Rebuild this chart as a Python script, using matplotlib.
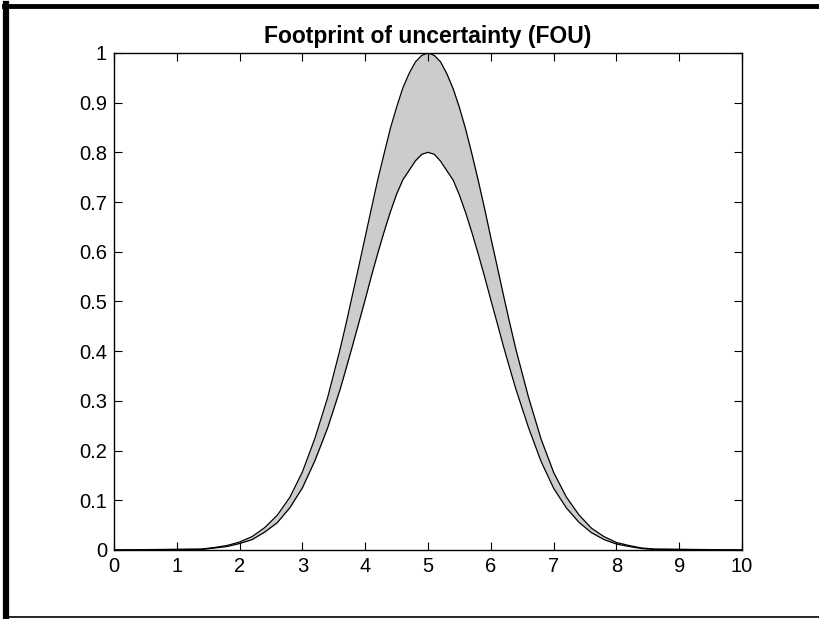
import matplotlib
matplotlib.use("Agg")
import matplotlib.pyplot as plt
from matplotlib.lines import Line2D

plt.rcParams['font.family'] = ['Liberation Sans', 'DejaVu Sans']

# points
x = [0, 1.4, 1.6, 1.8, 2.0, 2.2, 2.4, 2.6, 2.8, 3.0, 3.2, 3.4,
     3.6, 3.7, 3.8, 3.9, 4.0, 4.1, 4.2, 4.3, 4.4, 4.5, 4.6, 4.7, 4.8, 4.9,
     5.0, 5.1, 5.2, 5.3, 5.4, 5.5, 5.6, 5.7, 5.8, 5.9, 6.0, 6.1, 6.2, 6.3, 6.4,
     6.6, 6.8, 7.0, 7.2, 7.4, 7.6, 7.8, 8.0, 8.2, 8.4, 8.6, 10]
upper = [0, 0.002, 0.005, 0.009, 0.016, 0.027, 0.045, 0.070, 0.106, 0.157, 0.225, 0.306,
         0.404, 0.458, 0.515, 0.572, 0.630, 0.688, 0.745, 0.797, 0.848, 0.891, 0.930, 0.959, 0.982, 0.995,
         1.0, 0.995, 0.982, 0.958, 0.928, 0.890, 0.846, 0.796, 0.743, 0.687, 0.628, 0.571, 0.513, 0.457, 0.403,
         0.307, 0.223, 0.156, 0.107, 0.071, 0.044, 0.027, 0.015, 0.009, 0.004, 0.002, 0]
lower = [0, 0.001, 0.004, 0.007, 0.013, 0.021, 0.036, 0.055, 0.085, 0.125, 0.180, 0.245,
         0.323, 0.367, 0.412, 0.458, 0.504, 0.552, 0.597, 0.640, 0.680, 0.716, 0.745, 0.764, 0.783, 0.796,
         0.800, 0.796, 0.782, 0.763, 0.744, 0.714, 0.678, 0.638, 0.595, 0.550, 0.503, 0.457, 0.410, 0.366, 0.323,
         0.246, 0.178, 0.124, 0.085, 0.056, 0.035, 0.021, 0.012, 0.007, 0.003, 0.001, 0]

fig = plt.figure(figsize=(8.2, 6.19), dpi=100)
ax = fig.add_axes([0.139, 0.1115, 0.766, 0.803])

ax.fill_between(x, lower, upper, color="#cccccc", linewidth=0)
ax.plot(x, upper, color="k", linewidth=0.9)
ax.plot(x, lower, color="k", linewidth=0.9)

ax.set_xlim(0, 10)
ax.set_ylim(0, 1)
ax.set_xticks(range(0, 11))
ax.set_yticks([i / 10 for i in range(11)])
ax.set_yticklabels(["0", "0.1", "0.2", "0.3", "0.4", "0.5", "0.6", "0.7", "0.8", "0.9", "1"])
ax.tick_params(direction="in", top=True, right=True, length=6, width=0.8, labelsize=14.5)
ax.tick_params(axis="x", pad=5)
ax.tick_params(axis="y", pad=5)
for s in ax.spines.values():
    s.set_linewidth(1.0)
ax.set_title("Footprint of uncertainty (FOU)", fontsize=16.5, fontweight="bold", pad=7)

# frame around the picture
fig.add_artist(Line2D([0.0079, 0.0079], [0.003, 0.9935], transform=fig.transFigure, color="k", linewidth=4.5))
fig.add_artist(Line2D([0.005, 1.0], [0.9903, 0.9903], transform=fig.transFigure, color="k", linewidth=3.5))
fig.add_artist(Line2D([0.005, 1.0], [0.003, 0.003], transform=fig.transFigure, color="k", linewidth=1.2))

fig.savefig("out.png", dpi=100)
